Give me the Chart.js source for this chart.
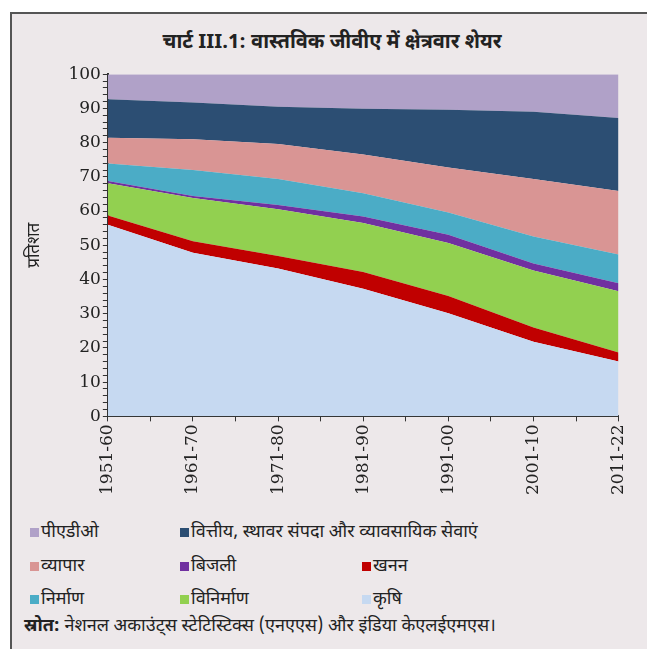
<!DOCTYPE html>
<html lang="hi">
<head>
  <meta charset="UTF-8" />
  <title>चार्ट III.1</title>
  <script src="https://cdn.jsdelivr.net/npm/chart.js"></script>
  <style>
    body { margin: 0; background: #fff; font-family: "Noto Sans Devanagari", "Noto Sans", sans-serif; }
    .frame { position: absolute; left: 10px; top: 12px; width: 640px; height: 640px;
             background: #ede8ea; border-left: 2px solid #555; border-top: 2px solid #555; }
    h1 { position: absolute; left: 0; top: 16px; width: 640px; margin: 0; text-align: center;
         font-size: 20px; font-weight: bold; color: #222; }
    .chart-box { position: absolute; left: 0; top: 48px; width: 630px; height: 436px; }
    .legend { position: absolute; left: 18px; top: 507px; width: 620px; }
    .legend .item { position: absolute; font-size: 18px; color: #222; white-space: nowrap; }
    .legend .sw { display: inline-block; width: 9px; height: 9px; margin-right: 2px; vertical-align: middle; }
    .source { position: absolute; left: 12px; top: 601px; font-size: 18px; color: #222; }
  </style>
</head>
<body>
  <div class="frame">
    <h1>चार्ट III.1: वास्तविक जीवीए में क्षेत्रवार शेयर</h1>
    <div class="chart-box"><canvas id="gva"></canvas></div>
    <div class="legend" id="legend"></div>
    <div class="source"><b>स्रोत:</b> नेशनल अकाउंट्स स्टेटिस्टिक्स (एनएएस) और इंडिया केएलईएमएस।</div>
  </div>

  <script>
    const periods = ['1951-60', '1961-70', '1971-80', '1981-90', '1991-00', '2001-10', '2011-22'];

    // bottom to top, in stacking order
    const agriculture   = [56.0, 47.8, 43.2, 37.3, 30.1, 21.8, 16.0];
    const mining        = [2.7, 3.4, 3.7, 4.9, 5.1, 4.2, 2.7];
    const manufacturing = [9.4, 12.6, 13.6, 14.3, 15.5, 16.6, 17.9];
    const electricity   = [0.7, 0.6, 1.3, 1.9, 2.4, 2.1, 2.3];
    const construction  = [5.1, 7.6, 7.6, 6.8, 6.5, 7.9, 8.4];
    const trade         = [7.5, 9.0, 10.2, 11.3, 13.1, 16.8, 18.6];
    const finance       = [11.3, 10.7, 10.9, 13.4, 16.9, 19.6, 21.3];
    const pado          = [7.3, 8.3, 9.5, 10.1, 10.4, 11.0, 12.8];

    const yTicks = [0, 10, 20, 30, 40, 50, 60, 70, 80, 90, 100];

    const series = [
      { name: 'कृषि', data: agriculture, color: '#c6d9f1' },
      { name: 'खनन', data: mining, color: '#c00000' },
      { name: 'विनिर्माण', data: manufacturing, color: '#92d050' },
      { name: 'बिजली', data: electricity, color: '#7030a0' },
      { name: 'निर्माण', data: construction, color: '#4bacc6' },
      { name: 'व्यापार', data: trade, color: '#d99594' },
      { name: 'वित्तीय, स्थावर संपदा और व्यावसायिक सेवाएं', data: finance, color: '#2c4e73' },
      { name: 'पीएडीओ', data: pado, color: '#b0a1c8' }
    ];

    // legend grid: [series index, col, row]
    const legendLayout = [[7, 0, 0], [6, 1, 0], [5, 0, 1], [3, 1, 1], [1, 2, 1], [4, 0, 2], [2, 1, 2], [0, 2, 2]];
    const colX = [0, 150, 332], rowY = [0, 34, 67];
    const leg = document.getElementById('legend');
    legendLayout.forEach(([i, c, r]) => {
      const s = series[i];
      leg.insertAdjacentHTML('beforeend',
        `<div class="item" style="left:${colX[c]}px;top:${rowY[r]}px"><span class="sw" style="background:${s.color}"></span>${s.name}</div>`);
    });

    new Chart(document.getElementById('gva'), {
      type: 'line',
      data: {
        datasets: series.map((s, i) => ({
          label: s.name,
          data: s.data.map((v, j) => ({ x: j, y: v })),
          backgroundColor: s.color,
          borderWidth: 0,
          pointRadius: 0,
          fill: i === 0 ? 'origin' : '-1'
        }))
      },
      options: {
        responsive: true,
        maintainAspectRatio: false,
        animation: false,
        layout: { padding: { left: 14, right: 6, top: 12, bottom: 0 } },
        plugins: { legend: { display: false }, tooltip: { enabled: false } },
        scales: {
          x: {
            type: 'linear',
            min: 0, max: periods.length - 1,
            grid: { drawOnChartArea: false, color: '#333', tickLength: 5 },
            border: { color: '#333', width: 2 },
            ticks: {
              stepSize: 0.5,
              autoSkip: false,
              minRotation: 90, maxRotation: 90,
              color: '#222',
              font: { family: 'DejaVu Serif', size: 17 },
              callback: v => Number.isInteger(v) ? periods[v] : ''
            }
          },
          y: {
            stacked: true,
            min: 0, max: 100,
            grid: { drawOnChartArea: false, color: '#333', tickLength: 5 },
            border: { color: '#333', width: 2 },
            ticks: {
              stepSize: 2,
              autoSkip: false,
              color: '#222',
              padding: 2,
              font: { family: 'DejaVu Serif', size: 17 },
              callback: v => yTicks.includes(v) ? v : ''
            },
            title: { display: true, text: 'प्रतिशत', color: '#222', padding: { top: 0, bottom: 20 },
                     font: { family: '"Noto Sans Devanagari", "Noto Sans", sans-serif', size: 17 } }
          }
        }
      }
    });
  </script>
</body>
</html>
